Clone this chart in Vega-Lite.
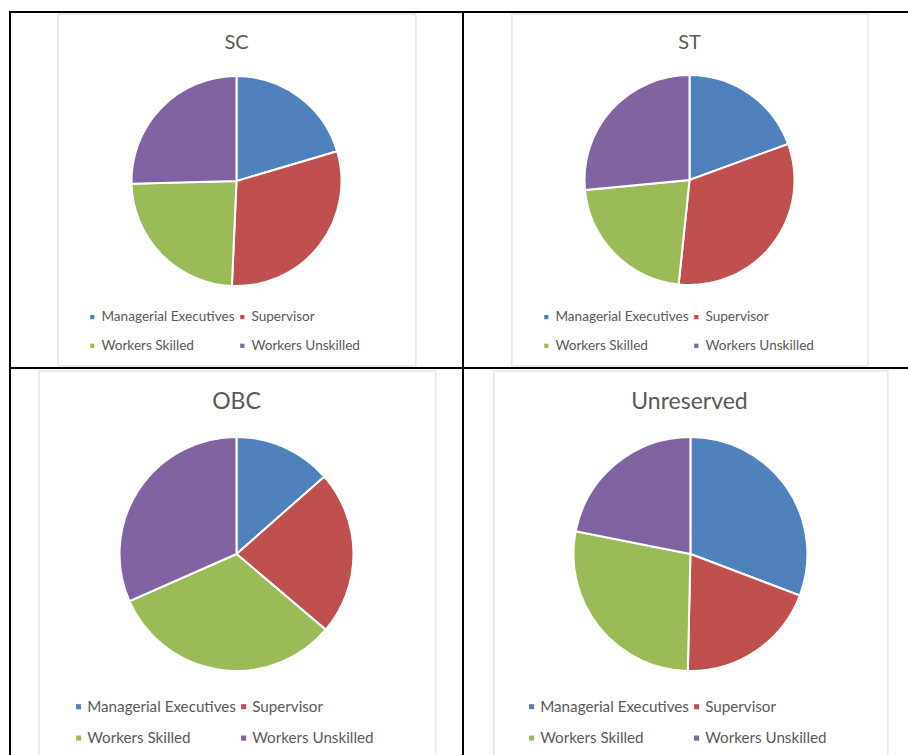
{
  "$schema": "https://vega.github.io/schema/vega-lite/v6.json",
  "padding": {"left": 9, "top": 11, "right": 0, "bottom": 0},
  "background": "white",
  "datasets": {
    "shares": [
      {"group": "SC", "category": "Managerial Executives", "value": 20.4},
      {"group": "SC", "category": "Supervisor", "value": 30.3},
      {"group": "SC", "category": "Workers Skilled", "value": 23.9},
      {"group": "SC", "category": "Workers Unskilled", "value": 25.4},
      {"group": "ST", "category": "Managerial Executives", "value": 19.4},
      {"group": "ST", "category": "Supervisor", "value": 32.2},
      {"group": "ST", "category": "Workers Skilled", "value": 21.8},
      {"group": "ST", "category": "Workers Unskilled", "value": 26.5},
      {"group": "OBC", "category": "Managerial Executives", "value": 13.5},
      {"group": "OBC", "category": "Supervisor", "value": 22.7},
      {"group": "OBC", "category": "Workers Skilled", "value": 32.2},
      {"group": "OBC", "category": "Workers Unskilled", "value": 31.6},
      {"group": "Unreserved", "category": "Managerial Executives", "value": 30.8},
      {"group": "Unreserved", "category": "Supervisor", "value": 19.6},
      {"group": "Unreserved", "category": "Workers Skilled", "value": 27.8},
      {"group": "Unreserved", "category": "Workers Unskilled", "value": 21.9}
    ],
    "panels": [
      {"group": "SC"},
      {"group": "ST"},
      {"group": "OBC"},
      {"group": "Unreserved"}
    ]
  },
  "columns": 2,
  "spacing": 0,
  "bounds": "flush",
  "concat": [
    {
      "width": 453, "height": 356,
      "layer": [
        {
          "data": {"name": "panels"},
          "transform": [{"filter": "datum.group === 'SC'"}],
          "mark": {"type": "rect", "fill": "white", "stroke": "#d9d9d9", "strokeWidth": 1},
          "encoding": {
            "x": {"datum": 0.106, "type": "quantitative", "scale": {"domain": [0, 1]}, "axis": null},
            "x2": {"datum": 0.896},
            "y": {"datum": 0.006, "type": "quantitative", "scale": {"domain": [0, 1], "reverse": true}, "axis": null},
            "y2": {"datum": 0.994}
          }
        },
        {
          "data": {"name": "panels"},
          "transform": [{"filter": "datum.group === 'SC'"}],
          "mark": {"type": "text", "fontSize": 20, "color": "#595959", "baseline": "alphabetic", "align": "center"},
          "encoding": {
            "text": {"field": "group"},
            "x": {"datum": 0.5, "type": "quantitative", "scale": {"domain": [0, 1]}, "axis": null},
            "y": {"datum": 0.104, "type": "quantitative", "scale": {"domain": [0, 1], "reverse": true}, "axis": null}
          }
        },
        {
          "data": {"name": "shares"},
          "transform": [{"filter": "datum.group === 'SC'"}],
          "mark": {"type": "arc", "outerRadius": 105, "stroke": "white", "strokeWidth": 2},
          "encoding": {
            "theta": {"field": "value", "type": "quantitative", "stack": true},
            "color": {
              "field": "category", "type": "nominal",
              "scale": {"domain": ["Managerial Executives", "Supervisor", "Workers Skilled", "Workers Unskilled"], "range": ["#4F81BD", "#C0504D", "#9BBB59", "#8064A2"]},
              "legend": {"orient": "none", "legendX": 75.5, "legendY": 298, "direction": "horizontal", "columns": 2, "title": null, "symbolType": "square", "symbolSize": 18, "symbolStrokeWidth": 0, "labelFontSize": 13.6, "labelColor": "#595959", "rowPadding": 14, "columnPadding": 0, "labelOffset": 2.3, "padding": 0}
            },
            "x": {"datum": 0.5, "type": "quantitative", "scale": {"domain": [0, 1]}, "axis": null},
            "y": {"datum": 0.475, "type": "quantitative", "scale": {"domain": [0, 1], "reverse": true}, "axis": null}
          }
        }
      ]
    },
    {
      "width": 453, "height": 356,
      "layer": [
        {
          "data": {"name": "panels"},
          "transform": [{"filter": "datum.group === 'ST'"}],
          "mark": {"type": "rect", "fill": "white", "stroke": "#d9d9d9", "strokeWidth": 1},
          "encoding": {
            "x": {"datum": 0.108, "type": "quantitative", "scale": {"domain": [0, 1]}, "axis": null},
            "x2": {"datum": 0.894},
            "y": {"datum": 0.006, "type": "quantitative", "scale": {"domain": [0, 1], "reverse": true}, "axis": null},
            "y2": {"datum": 0.994}
          }
        },
        {
          "data": {"name": "panels"},
          "transform": [{"filter": "datum.group === 'ST'"}],
          "mark": {"type": "text", "fontSize": 20, "color": "#595959", "baseline": "alphabetic", "align": "center"},
          "encoding": {
            "text": {"field": "group"},
            "x": {"datum": 0.5, "type": "quantitative", "scale": {"domain": [0, 1]}, "axis": null},
            "y": {"datum": 0.104, "type": "quantitative", "scale": {"domain": [0, 1], "reverse": true}, "axis": null}
          }
        },
        {
          "data": {"name": "shares"},
          "transform": [{"filter": "datum.group === 'ST'"}],
          "mark": {"type": "arc", "outerRadius": 105, "stroke": "white", "strokeWidth": 2},
          "encoding": {
            "theta": {"field": "value", "type": "quantitative", "stack": true},
            "color": {
              "field": "category", "type": "nominal",
              "scale": {"domain": ["Managerial Executives", "Supervisor", "Workers Skilled", "Workers Unskilled"], "range": ["#4F81BD", "#C0504D", "#9BBB59", "#8064A2"]},
              "legend": {"orient": "none", "legendX": 76.5, "legendY": 298, "direction": "horizontal", "columns": 2, "title": null, "symbolType": "square", "symbolSize": 18, "symbolStrokeWidth": 0, "labelFontSize": 13.6, "labelColor": "#595959", "rowPadding": 14, "columnPadding": 0, "labelOffset": 2.3, "padding": 0}
            },
            "x": {"datum": 0.5, "type": "quantitative", "scale": {"domain": [0, 1]}, "axis": null},
            "y": {"datum": 0.472, "type": "quantitative", "scale": {"domain": [0, 1], "reverse": true}, "axis": null}
          }
        }
      ]
    },
    {
      "width": 453, "height": 400,
      "layer": [
        {
          "data": {"name": "panels"},
          "transform": [{"filter": "datum.group === 'OBC'"}],
          "mark": {"type": "rect", "fill": "white", "stroke": "#d9d9d9", "strokeWidth": 1},
          "encoding": {
            "x": {"datum": 0.064, "type": "quantitative", "scale": {"domain": [0, 1]}, "axis": null},
            "x2": {"datum": 0.940},
            "y": {"datum": 0.0075, "type": "quantitative", "scale": {"domain": [0, 1], "reverse": true}, "axis": null},
            "y2": {"datum": 0.995}
          }
        },
        {
          "data": {"name": "panels"},
          "transform": [{"filter": "datum.group === 'OBC'"}],
          "mark": {"type": "text", "fontSize": 23, "color": "#595959", "baseline": "alphabetic", "align": "center"},
          "encoding": {
            "text": {"field": "group"},
            "x": {"datum": 0.5, "type": "quantitative", "scale": {"domain": [0, 1]}, "axis": null},
            "y": {"datum": 0.1025, "type": "quantitative", "scale": {"domain": [0, 1], "reverse": true}, "axis": null}
          }
        },
        {
          "data": {"name": "shares"},
          "transform": [{"filter": "datum.group === 'OBC'"}],
          "mark": {"type": "arc", "outerRadius": 117, "stroke": "white", "strokeWidth": 2},
          "encoding": {
            "theta": {"field": "value", "type": "quantitative", "stack": true},
            "color": {
              "field": "category", "type": "nominal",
              "scale": {"domain": ["Managerial Executives", "Supervisor", "Workers Skilled", "Workers Unskilled"], "range": ["#4F81BD", "#C0504D", "#9BBB59", "#8064A2"]},
              "legend": {"orient": "none", "legendX": 61, "legendY": 331, "direction": "horizontal", "columns": 2, "title": null, "symbolType": "square", "symbolSize": 26, "symbolStrokeWidth": 0, "labelFontSize": 15.2, "labelColor": "#595959", "rowPadding": 15.5, "columnPadding": -1, "labelOffset": 1, "padding": 0}
            },
            "x": {"datum": 0.5, "type": "quantitative", "scale": {"domain": [0, 1]}, "axis": null},
            "y": {"datum": 0.465, "type": "quantitative", "scale": {"domain": [0, 1], "reverse": true}, "axis": null}
          }
        }
      ]
    },
    {
      "width": 453, "height": 400,
      "layer": [
        {
          "data": {"name": "panels"},
          "transform": [{"filter": "datum.group === 'Unreserved'"}],
          "mark": {"type": "rect", "fill": "white", "stroke": "#d9d9d9", "strokeWidth": 1},
          "encoding": {
            "x": {"datum": 0.068, "type": "quantitative", "scale": {"domain": [0, 1]}, "axis": null},
            "x2": {"datum": 0.938},
            "y": {"datum": 0.0075, "type": "quantitative", "scale": {"domain": [0, 1], "reverse": true}, "axis": null},
            "y2": {"datum": 0.995}
          }
        },
        {
          "data": {"name": "panels"},
          "transform": [{"filter": "datum.group === 'Unreserved'"}],
          "mark": {"type": "text", "fontSize": 23, "color": "#595959", "baseline": "alphabetic", "align": "center"},
          "encoding": {
            "text": {"field": "group"},
            "x": {"datum": 0.5, "type": "quantitative", "scale": {"domain": [0, 1]}, "axis": null},
            "y": {"datum": 0.1025, "type": "quantitative", "scale": {"domain": [0, 1], "reverse": true}, "axis": null}
          }
        },
        {
          "data": {"name": "shares"},
          "transform": [{"filter": "datum.group === 'Unreserved'"}],
          "mark": {"type": "arc", "outerRadius": 117, "stroke": "white", "strokeWidth": 2},
          "encoding": {
            "theta": {"field": "value", "type": "quantitative", "stack": true},
            "color": {
              "field": "category", "type": "nominal",
              "scale": {"domain": ["Managerial Executives", "Supervisor", "Workers Skilled", "Workers Unskilled"], "range": ["#4F81BD", "#C0504D", "#9BBB59", "#8064A2"]},
              "legend": {"orient": "none", "legendX": 61, "legendY": 331, "direction": "horizontal", "columns": 2, "title": null, "symbolType": "square", "symbolSize": 26, "symbolStrokeWidth": 0, "labelFontSize": 15.2, "labelColor": "#595959", "rowPadding": 15.5, "columnPadding": -1, "labelOffset": 1, "padding": 0}
            },
            "x": {"datum": 0.502, "type": "quantitative", "scale": {"domain": [0, 1]}, "axis": null},
            "y": {"datum": 0.465, "type": "quantitative", "scale": {"domain": [0, 1], "reverse": true}, "axis": null}
          }
        }
      ]
    }
  ],
  "resolve": {"legend": {"color": "independent"}},
  "config": {
    "font": "Lato",
    "view": {"stroke": "black", "strokeWidth": 2},
    "legend": {"labelFont": "Lato"},
    "text": {"font": "Lato"}
  }
}
